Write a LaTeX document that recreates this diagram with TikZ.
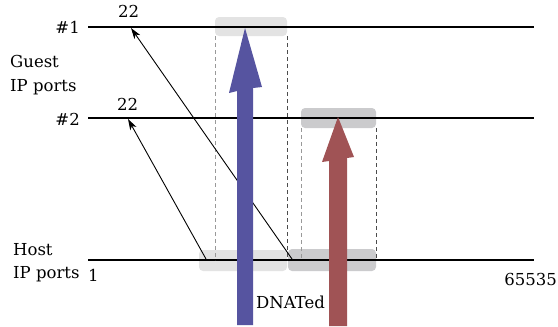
\documentclass[tikz,border=0pt]{standalone}
\usepackage{fontspec}
\setmainfont{DejaVu Serif}
\usetikzlibrary{arrows.meta}
\definecolor{pblue}{HTML}{5654A0}
\definecolor{pred}{HTML}{A05355}
\definecolor{lgray}{HTML}{E3E3E3}
\definecolor{dgray}{HTML}{CBCBCD}
\tikzset{
  portline/.style={line width=2pt, black},
  mapbox/.style={rounded corners=4pt},
  guide/.style={dashed, line width=0.8pt, dash pattern=on 4pt off 3pt},
  maparrow/.style={line width=0.9pt, -{Stealth[length=11pt,width=7pt,inset=3pt]}},
  lbl/.style={inner sep=0pt, anchor=base west, font=\fontsize{16.5}{20}\selectfont},
}
\begin{document}
\begin{tikzpicture}[x=1pt,y=-1pt]
\useasboundingbox (0,0) rectangle (558,327);
% boxes
\fill[lgray, mapbox] (215,17) rectangle (287,36);
\fill[dgray, mapbox] (301,108) rectangle (376,128);
\fill[lgray, mapbox] (199,250) rectangle (287,271);
\fill[dgray, mapbox] (288,249) rectangle (376,271);
% port lines
\coordinate (g1s) at (88,27); \coordinate (g1e) at (534,27);
\coordinate (g2s) at (88,118); \coordinate (g2e) at (534,118);
\coordinate (hs) at (88,260); \coordinate (he) at (534,260);
\draw[portline] (g1s) -- (g1e);
\draw[portline] (g2s) -- (g2e);
\draw[portline] (hs) -- (he);
% dashed guides
\draw[guide, gray!80] (215,36) -- (215,260);
\draw[guide, black!70] (287,36) -- (287,260);
\draw[guide, gray!80] (301,128) -- (301,260);
\draw[guide, black!70] (376,128) -- (376,260);
% thin mapping arrows
\coordinate (h22a) at (206,259);
\coordinate (h22b) at (292,259);
\coordinate (g2p) at (128,119);
\coordinate (g1p) at (131,28);
\draw[maparrow] (h22a) -- (g2p);
\draw[maparrow] (h22b) -- (g1p);
% thick arrows
\fill[pblue] (237,325) -- (237,91) -- (229,93) -- (245,28) -- (262,87) -- (253,88) -- (253,325) -- cycle;
\fill[pred] (329,326) -- (329,161) -- (322,162) -- (338,117) -- (354,157) -- (347,158) -- (347,326) -- cycle;
% labels
\node[lbl, anchor=base east] (n1) at (80,33) {\#1};
\node[lbl, anchor=base east] (n2) at (80,125) {\#2};
\node[lbl] (p1) at (118,17) {22};
\node[lbl] (p2) at (117,110) {22};
\node[lbl] (guest) at (10,67) {Guest};
\node[lbl] (guest2) at (10,91) {IP ports};
\node[lbl] (host) at (13,255) {Host};
\node[lbl] (host2) at (13,278) {IP ports};
\node[lbl] (one) at (88,281) {1};
\node[lbl, anchor=base east] (max) at (557,285) {65535};
\node[lbl] (dnat) at (256,308) {DNATed};
\end{tikzpicture}
\end{document}
